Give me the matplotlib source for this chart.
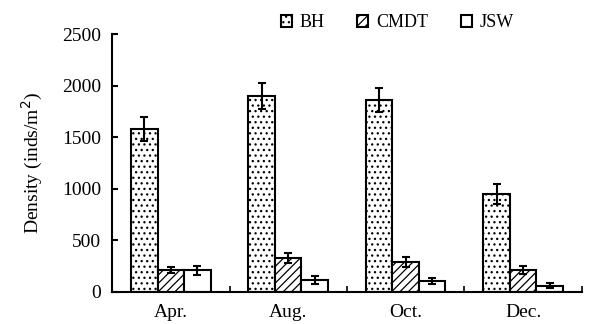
import numpy as np
import matplotlib.pyplot as plt

months = ['Apr.', 'Aug.', 'Oct.', 'Dec.']
series = ['BH', 'CMDT', 'JSW']
bh = [1580, 1900, 1860, 950]
bh_err = [120, 125, 120, 95]
cmdt = [210, 330, 290, 210]
cmdt_err = [30, 50, 45, 40]
jsw = [210, 115, 105, 60]
jsw_err = [45, 40, 30, 25]

plt.rcParams['font.family'] = 'Liberation Serif'
plt.rcParams['hatch.linewidth'] = 0.9

fig = plt.figure(figsize=(5.9, 3.24), dpi=100)
ax = fig.add_axes([0.19, 0.099, 0.796, 0.796])

x = np.arange(len(months))
w = 0.226
vals = [bh, cmdt, jsw]
errs = [bh_err, cmdt_err, jsw_err]
hatches = ['...', '////', '']
for i in range(3):
	ax.bar(x + (i - 1) * w, vals[i], w, yerr=errs[i], color='white', edgecolor='black',
		linewidth=1.5, hatch=hatches[i], label=series[i],
		error_kw=dict(ecolor='black', elinewidth=1.5, capsize=3, capthick=1.5))

ax.set_xlim(-0.5, 3.5)
ax.set_ylim(0, 2500)
ax.set_yticks([0, 500, 1000, 1500, 2000, 2500])
ax.set_xticks(x)
ax.set_xticklabels(months, fontsize=14)
ax.tick_params(axis='x', length=0, pad=9)
ax.tick_params(axis='y', direction='in', length=4, width=1.5, labelsize=14, pad=8)
ax.set_xticks([0.5, 1.5, 2.5, 3.5], minor=True)
ax.tick_params(axis='x', which='minor', direction='in', length=4, width=1.2)
ax.spines['top'].set_visible(False)
ax.spines['right'].set_visible(False)
ax.spines['left'].set_linewidth(1.5)
ax.spines['bottom'].set_linewidth(1.5)
ax.set_ylabel('Density (inds/m$^2$)', fontsize=14, labelpad=12)

ax.legend(loc='lower right', bbox_to_anchor=(0.875, 0.975), ncol=3, frameon=False,
	fontsize=13, handlelength=0.6, handleheight=0.6, columnspacing=1.8, handletextpad=0.45,
	borderaxespad=0.1)

fig.savefig('out.png', dpi=100)
